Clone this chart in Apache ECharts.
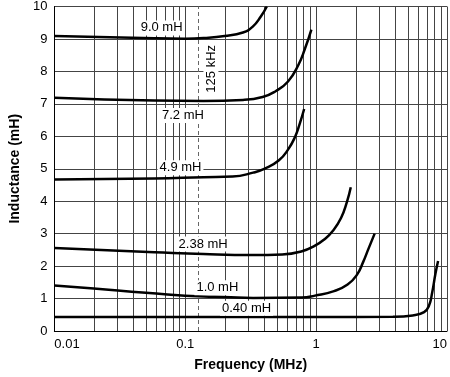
<!DOCTYPE html>
<html>
<head>
<meta charset="utf-8">
<script src="https://cdn.jsdelivr.net/npm/echarts@6/dist/echarts.min.js"></script>
<style>
  html, body { margin: 0; padding: 0; background: #fff; }
  #main { width: 450px; height: 377px; }
</style>
</head>
<body>
<div id="main"></div>
<script>
// inductance (mH) vs frequency (MHz), one list per coil
var curve90 = [[0.01, 9.09], [0.058, 9.02], [0.1, 9.01], [0.14, 9.03], [0.2, 9.09], [0.276, 9.2], [0.328, 9.38], [0.378, 9.69], [0.42, 10]];
var curve72 = [[0.01, 7.19], [0.058, 7.1], [0.138, 7.09], [0.276, 7.12], [0.39, 7.21], [0.49, 7.39], [0.61, 7.69], [0.73, 8.19], [0.82, 8.69], [0.92, 9.29]];
var curve49 = [[0.01, 4.67], [0.058, 4.7], [0.138, 4.74], [0.23, 4.76], [0.33, 4.88], [0.41, 5.01], [0.52, 5.26], [0.61, 5.59], [0.69, 5.98], [0.75, 6.39], [0.81, 6.84]];
var curve238 = [[0.01, 2.56], [0.058, 2.43], [0.138, 2.37], [0.33, 2.34], [0.55, 2.36], [0.78, 2.46], [0.98, 2.63], [1.16, 2.83], [1.34, 3.08], [1.55, 3.48], [1.72, 3.98], [1.84, 4.43]];
var curve10 = [[0.01, 1.4], [0.02, 1.31], [0.05, 1.18], [0.138, 1.06], [0.2, 1.05], [0.33, 1.02], [0.78, 1.03], [0.98, 1.09], [1.37, 1.23], [1.74, 1.43], [2.05, 1.73], [2.29, 2.13], [2.51, 2.53], [2.8, 3.0]];
var curve040 = [[0.01, 0.43], [0.1, 0.43], [1, 0.43], [3.86, 0.44], [5.47, 0.48], [6.68, 0.58], [7.28, 0.78], [7.7, 1.18], [8.17, 1.78], [8.55, 2.16]];

// curve labels
var labelText = ['9.0 mH', '7.2 mH', '4.9 mH', '2.38 mH', '1.0 mH', '0.40 mH'];
var labelFreq = [0.066, 0.096, 0.092, 0.137, 0.176, 0.294];
var labelValue = [9.34, 6.64, 5.03, 2.68, 1.33, 0.70];

var markerFreq = 0.125;
var markerText = '125 kHz';
var markerValue = 8.08;

// log grid lines 2..9 of each decade
var gridFreqs = [0.02, 0.03, 0.04, 0.05, 0.06, 0.07, 0.08, 0.09,
  0.1, 0.2, 0.3, 0.4, 0.5, 0.6, 0.7, 0.8, 0.9,
  1, 2, 3, 4, 5, 6, 7, 8, 9, 10];
var xTicks = [0.01, 0.1, 1, 10];

var font = '"Liberation Sans", Arial, sans-serif';
var chart = echarts.init(document.getElementById('main'));
var measure = document.createElement('canvas').getContext('2d');
measure.font = '13px ' + font;

function curve(data) {
  return {
    type: 'line',
    data: data,
    smooth: 0.5,
    symbol: 'none',
    silent: true,
    z: 5,
    lineStyle: { color: '#000', width: 2.5 }
  };
}

function vLine(dash, color) {
  return function (params, api) {
    var a = api.coord([api.value(0), 0]);
    var b = api.coord([api.value(0), 10]);
    return {
      type: 'line',
      shape: { x1: Math.round(a[0]) + 0.5, y1: a[1], x2: Math.round(a[0]) + 0.5, y2: b[1] },
      style: { stroke: color, lineWidth: 1, lineDash: dash }
    };
  };
}

// text on a white box, so the grid is hidden behind it
function textItem(texts, rot, dx) {
  return function (params, api) {
    var p = api.coord([api.value(0), api.value(1)]);
    var t = texts[params.dataIndex];
    var w = measure.measureText(t).width + 4;
    var h = 15;
    return {
      type: 'group',
      x: p[0] + dx,
      y: p[1],
      rotation: rot,
      children: [
        { type: 'rect', shape: { x: -w / 2, y: -h / 2, width: w, height: h }, style: { fill: '#fff' } },
        {
          type: 'text',
          style: {
            text: t,
            fill: '#000',
            font: '13px ' + font,
            align: 'center',
            verticalAlign: 'middle'
          }
        }
      ]
    };
  };
}

var option = {
  animation: false,
  backgroundColor: '#fff',
  textStyle: { fontFamily: font },
  grid: { left: 47, top: 3, right: 1, bottom: 41, containLabel: false },
  xAxis: {
    type: 'log',
    logBase: 10,
    min: 0.01,
    max: 10,
    name: 'Frequency (MHz)',
    nameLocation: 'middle',
    nameGap: 27,
    nameTextStyle: { fontSize: 14, fontWeight: 'bold', color: '#000', fontFamily: font },
    axisLine: { lineStyle: { color: '#000', width: 1 } },
    axisTick: { show: false },
    splitLine: { show: false },
    axisLabel: {
      fontSize: 13, color: '#000', margin: 7, fontFamily: font,
      alignMinLabel: 'left', alignMaxLabel: 'right',
      formatter: function (v) {
        for (var i = 0; i < xTicks.length; i++) {
          if (Math.abs(v - xTicks[i]) < xTicks[i] * 1e-6) return String(xTicks[i]);
        }
        return '';
      }
    }
  },
  yAxis: {
    type: 'value',
    min: 0,
    max: 10,
    interval: 1,
    name: 'Inductance (mH)',
    nameLocation: 'middle',
    nameGap: 27,
    nameTextStyle: { fontSize: 14, fontWeight: 'bold', color: '#000', fontFamily: font },
    axisLine: { show: true, lineStyle: { color: '#000', width: 1 } },
    axisTick: { show: false },
    axisLabel: { fontSize: 13, color: '#000', margin: 7, fontFamily: font },
    splitLine: { show: true, lineStyle: { color: '#444', width: 1 } }
  },
  series: [
    {
      type: 'custom',
      silent: true,
      z: 1,
      renderItem: vLine(null, '#444'),
      data: gridFreqs.map(function (f) { return [f, 0]; })
    },
    {
      type: 'custom',
      silent: true,
      z: 2,
      renderItem: vLine([4, 3], '#666'),
      data: [[markerFreq, 0]]
    },
    curve(curve90),
    curve(curve72),
    curve(curve49),
    curve(curve238),
    curve(curve10),
    curve(curve040),
    {
      type: 'custom',
      silent: true,
      z: 8,
      renderItem: textItem(labelText, 0, 0),
      data: labelFreq.map(function (f, i) { return [f, labelValue[i]]; })
    },
    {
      type: 'custom',
      silent: true,
      z: 8,
      renderItem: textItem([markerText], Math.PI / 2, 13),
      data: [[markerFreq, markerValue]]
    }
  ]
};

chart.setOption(option);
</script>
</body>
</html>
